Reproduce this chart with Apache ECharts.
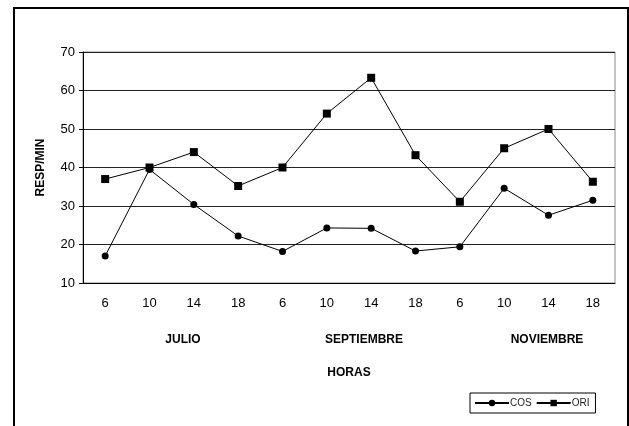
<!DOCTYPE html>
<html>
<head>
<meta charset="utf-8">
<script src="https://cdn.jsdelivr.net/npm/echarts@6/dist/echarts.min.js"></script>
<style>
    html, body { margin: 0; padding: 0; background: #fff; }
    #chart { width: 629px; height: 426px; }
</style>
</head>
<body>
<div id="chart"></div>
<script>
// horas de registro, tres meses
var horas = ['6', '10', '14', '18', '6', '10', '14', '18', '6', '10', '14', '18'];
var meses = ['JULIO', 'SEPTIEMBRE', 'NOVIEMBRE'];
var cos = [17, 39.5, 30.4, 22.2, 18.2, 24.3, 24.2, 18.3, 19.4, 34.6, 27.6, 31.5];
var ori = [37, 40, 44, 35.2, 40, 54, 63.3, 43.2, 31.1, 45, 50, 36.3];

var font = 'Liberation Sans, Arial, sans-serif';
var mesX = [183, 364, 547];

var chart = echarts.init(document.getElementById('chart'));

var option = {
    animation: false,
    backgroundColor: '#fff',
    textStyle: { fontFamily: font },
    grid: {
        left: 83,
        right: 14,
        top: 52,
        bottom: 143,
        show: true,
        borderColor: '#888',
        borderWidth: 1
    },
    legend: {
        left: 470,
        top: 393,
        data: ['COS', 'ORI'],
        itemWidth: 34,
        itemHeight: 8,
        itemGap: 4,
        padding: [5, 6, 5, 4],
        borderColor: '#000',
        borderWidth: 1,
        backgroundColor: '#fff',
        textStyle: { fontSize: 10, color: '#222', padding: [0, 0, 0, -4] }
    },
    xAxis: {
        type: 'category',
        data: horas,
        name: 'HORAS',
        nameLocation: 'middle',
        nameGap: 84,
        nameTextStyle: { fontWeight: 'bold', fontSize: 12, color: '#000' },
        axisLine: { lineStyle: { color: '#000', width: 1 } },
        axisTick: { length: 4, lineStyle: { color: '#000' } },
        axisLabel: { margin: 14, fontSize: 13, color: '#000', interval: 0 }
    },
    yAxis: {
        type: 'value',
        min: 10,
        max: 70,
        interval: 10,
        name: 'RESP/MIN',
        nameLocation: 'middle',
        nameGap: 36,
        nameTextStyle: { fontWeight: 'bold', fontSize: 12, color: '#000' },
        axisLine: { show: true, lineStyle: { color: '#000', width: 1 } },
        axisTick: { show: true, length: 4, lineStyle: { color: '#000' } },
        axisLabel: { margin: 8, fontSize: 13, color: '#000' },
        splitLine: { lineStyle: { color: '#222', width: 1 } }
    },
    graphic: [
        {
            type: 'rect',
            shape: { x: 14, y: 8, width: 614, height: 500 },
            style: { fill: 'none', stroke: '#000', lineWidth: 2 },
            z: 100,
            silent: true
        }
    ].concat(meses.map(function (m, i) {
        return {
            type: 'text',
            x: mesX[i],
            y: 340,
            style: {
                text: m,
                font: 'bold 12px ' + font,
                fill: '#000',
                align: 'center',
                verticalAlign: 'middle'
            }
        };
    })),
    series: [
        {
            name: 'COS',
            type: 'line',
            data: cos,
            symbol: 'circle',
            symbolSize: 7,
            itemStyle: { color: '#000' },
            lineStyle: { color: '#000', width: 1 }
        },
        {
            name: 'ORI',
            type: 'line',
            data: ori,
            symbol: 'rect',
            symbolSize: 8,
            itemStyle: { color: '#000' },
            lineStyle: { color: '#000', width: 1 }
        }
    ]
};

chart.setOption(option);
</script>
</body>
</html>
